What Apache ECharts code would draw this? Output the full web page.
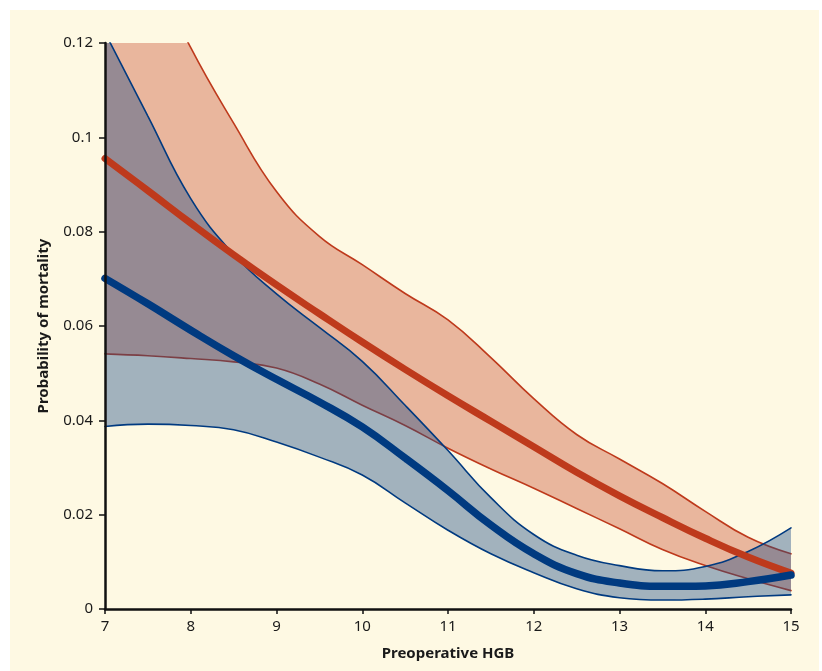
<!DOCTYPE html>
<html>
<head>
<meta charset="utf-8">
<script src="https://cdn.jsdelivr.net/npm/echarts@6/dist/echarts.min.js"></script>
<style>
  html, body { margin: 0; padding: 0; background: #ffffff; }
  #chart { position: absolute; left: 10px; top: 10px; width: 809px; height: 661px; background: #FEF9E3; }
</style>
</head>
<body>
<div id="chart"></div>
<script>
// preoperative HGB (x categories, every half unit)
const hgb = ['7', '7.5', '8', '8.5', '9', '9.5', '10', '10.5', '11', '11.5', '12', '12.5', '13', '13.5', '14', '14.5', '15'];

// blue curve: estimate + lower / upper bounds
const blueMid = [0.0701, 0.0647, 0.0591, 0.0537, 0.0487, 0.0439, 0.0386, 0.0320, 0.0251, 0.0178, 0.0117, 0.0075, 0.0055, 0.0048, 0.0049, 0.0058, 0.0072];
const blueLow = [0.0387, 0.0392, 0.0389, 0.0380, 0.0354, 0.0322, 0.0284, 0.0225, 0.0167, 0.0117, 0.0077, 0.0043, 0.0024, 0.0019, 0.0021, 0.0026, 0.0030];
const blueUp = [0.1222, 0.1045, 0.0870, 0.0752, 0.0668, 0.0597, 0.0525, 0.0432, 0.0336, 0.0236, 0.0158, 0.0114, 0.0092, 0.0081, 0.0090, 0.0122, 0.0172];

// red curve: estimate + lower / upper bounds
const redMid = [0.0955, 0.0887, 0.0818, 0.0751, 0.0687, 0.0626, 0.0566, 0.0508, 0.0452, 0.0398, 0.0344, 0.0290, 0.0240, 0.0194, 0.0150, 0.0110, 0.0076];
const redLow = [0.0541, 0.0537, 0.0531, 0.0524, 0.0511, 0.0477, 0.0432, 0.0389, 0.0341, 0.0297, 0.0256, 0.0213, 0.0170, 0.0126, 0.0092, 0.0064, 0.0039];
const redUp = [0.1600, 0.1380, 0.1190, 0.1030, 0.0885, 0.0790, 0.0730, 0.0669, 0.0613, 0.0533, 0.0446, 0.0370, 0.0318, 0.0266, 0.0207, 0.0152, 0.0117];

const yTicks = [0, 0.02, 0.04, 0.06, 0.08, 0.1, 0.12];

const RED = '#BE3A1C';
const BLUE = '#003A80';
const SMOOTH = 0.45;

// band = invisible lower line + stacked difference with fill
const band = (stack, lo, up, fill, z) => [
  {
    type: 'line', stack, data: lo, z, symbol: 'none', smooth: SMOOTH,
    lineStyle: { width: 0, opacity: 0 }, silent: true,
  },
  {
    type: 'line', stack, data: up.map((v, i) => v - lo[i]), z, symbol: 'none', smooth: SMOOTH,
    lineStyle: { width: 0, opacity: 0 }, areaStyle: { color: fill, opacity: 1 }, silent: true,
  },
];

const line = (data, color, width, z) => ({
  type: 'line', data, z, symbol: 'none', smooth: SMOOTH,
  lineStyle: { color, width, cap: 'round' }, silent: true,
});

const axisFont = { fontFamily: 'Noto Sans', fontSize: 15, color: '#1a1a1a' };

const chart = echarts.init(document.getElementById('chart'));
chart.setOption({
  animation: false,
  backgroundColor: 'transparent',
  grid: { left: 95, top: 33, right: 28, bottom: 62, containLabel: false },
  xAxis: {
    type: 'category',
    z: 10,
    data: hgb,
    boundaryGap: false,
    name: 'Preoperative HGB',
    nameLocation: 'middle',
    nameGap: 37,
    nameTextStyle: { ...axisFont, fontSize: 15, fontWeight: 'bold' },
    axisLine: { lineStyle: { color: '#111', width: 2.5 } },
    axisTick: { interval: 1, length: 5, lineStyle: { color: '#111', width: 1.5 } },
    axisLabel: { interval: 1, margin: 10, ...axisFont },
    splitLine: { show: false },
  },
  yAxis: {
    type: 'value',
    z: 10,
    min: yTicks[0],
    max: yTicks[yTicks.length - 1],
    interval: 0.02,
    name: 'Probability of mortality',
    nameLocation: 'middle',
    nameGap: 54,
    nameTextStyle: { ...axisFont, fontSize: 15, fontWeight: 'bold' },
    axisLine: { show: true, lineStyle: { color: '#111', width: 2.5 } },
    axisTick: { show: true, length: 6, lineStyle: { color: '#111', width: 1.5 } },
    axisLabel: { margin: 12, ...axisFont, formatter: (v) => String(+v.toFixed(2)) },
    splitLine: { show: false },
  },
  series: [
    ...band('red', redLow, redUp, '#E9B69D', 1),
    line(redLow, RED, 1.6, 2),
    line(redUp, RED, 1.6, 2),
    ...band('blue', blueLow, blueUp, 'rgba(24,72,133,0.4)', 3),
    line(blueLow, BLUE, 1.6, 4),
    line(blueUp, BLUE, 1.6, 4),
    line(redMid, RED, 7, 5),
    line(blueMid, BLUE, 7.5, 6),
  ],
});
</script>
</body>
</html>
